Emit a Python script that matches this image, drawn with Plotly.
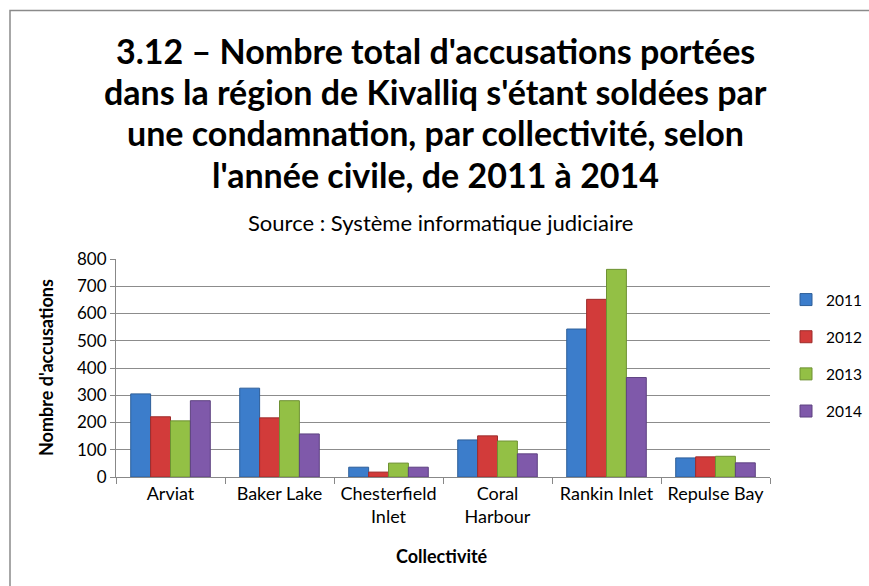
import plotly.graph_objects as go

categories = ["Arviat", "Baker Lake", "Chesterfield<br>Inlet", "Coral<br>Harbour", "Rankin Inlet", "Repulse Bay"]
years = ["2011", "2012", "2013", "2014"]
v2011 = [305, 326, 36, 136, 543, 70]
v2012 = [221, 217, 18, 151, 652, 74]
v2013 = [206, 280, 51, 132, 762, 76]
v2014 = [280, 158, 36, 85, 365, 52]
y_ticks = [0, 100, 200, 300, 400, 500, 600, 700, 800]

title_lines = [
    "3.12 – Nombre total d'accusations portées",
    "dans la région de Kivalliq s'étant soldées par",
    "une condamnation, par collectivité, selon",
    "l'année civile, de 2011 à 2014",
]
subtitle = "Source : Système informatique judiciaire"

colors = ["#3C7DCB", "#D23B3A", "#93C045", "#7F59AA"]
outline = ["#2E5F99", "#9E2C2B", "#6E9133", "#5E4280"]
series = [v2011, v2012, v2013, v2014]

FONT = "Lato"

W, H = 869, 586
PL, PR, PT, PB = 116, 770, 259, 477   # plot area in pixels
PW = W - PL                            # paper width (margin r = 0)
PH = PB - PT


def px(X):
    return (X - PL) / PW


def py(Y):
    return (PB - Y) / PH


fig = go.Figure()
for name, vals, c, oc in zip(years, series, colors, outline):
    fig.add_trace(go.Bar(
        x=categories, y=vals, name=name, legendgroup=name,
        marker=dict(color=c, line=dict(color=oc, width=1)),
    ))

ann = []
for line, yy in zip(title_lines, [50, 91, 132, 174]):
    ann.append(dict(
        text="<b>" + line + "</b>", xref="paper", yref="paper",
        x=px(435), y=py(yy),
        xanchor="center", yanchor="middle", showarrow=False,
        font=dict(family=FONT, size=34, color="#000000"),
    ))
ann.append(dict(
    text=subtitle, xref="paper", yref="paper",
    x=px(440), y=py(222),
    xanchor="center", yanchor="middle", showarrow=False,
    font=dict(family=FONT, size=22, color="#000000"),
))
ann.append(dict(
    text="<b>Collectivité</b>", xref="paper", yref="paper",
    x=px(442), y=py(556),
    xanchor="center", yanchor="middle", showarrow=False,
    font=dict(family=FONT, size=18, color="#000000"),
))
ann.append(dict(
    text="<b>Nombre d'accusations</b>", xref="paper", yref="paper",
    x=px(46), y=py(368), textangle=-90,
    xanchor="center", yanchor="middle", showarrow=False,
    font=dict(family=FONT, size=18, color="#000000"),
))

fig.update_layout(
    width=W, height=H,
    margin=dict(l=PL, r=0, t=PT, b=H - PB, pad=0, autoexpand=False),
    paper_bgcolor="white", plot_bgcolor="white",
    font=dict(family=FONT, size=18, color="#000000"),
    barmode="group", bargap=0.27, bargroupgap=0.0,
    showlegend=True,
    legend=dict(
        x=px(786), y=py(283), xanchor="left", yanchor="top",
        font=dict(family=FONT, size=15.5, color="#000000"),
        tracegroupgap=14, itemwidth=30, borderwidth=0,
        bgcolor="rgba(0,0,0,0)",
    ),
    annotations=ann,
    shapes=[dict(type="rect", xref="paper", yref="paper",
                 x0=px(10), x1=px(1200),
                 y0=py(900), y1=py(10.5),
                 line=dict(color="#8A8A8A", width=1.5), layer="below")],
)
fig.update_xaxes(
    domain=[0, (PR - PL) / PW],
    showline=True, linecolor="#888888", linewidth=1,
    ticks="outside", tickson="boundaries", ticklen=6, tickcolor="#888888",
    tickfont=dict(family=FONT, size=18),
)
fig.update_yaxes(
    range=[0, 800], tickvals=y_ticks,
    showline=True, linecolor="#888888", linewidth=1,
    ticks="outside", ticklen=5, tickcolor="#888888",
    showgrid=True, gridcolor="#8C8C8C", gridwidth=1,
    zeroline=False,
    tickfont=dict(family=FONT, size=17),
)

fig.write_html(
    "out.html",
    config={"displayModeBar": False},
    post_script="document.body.style.margin='0';document.body.style.overflow='hidden';",
)
